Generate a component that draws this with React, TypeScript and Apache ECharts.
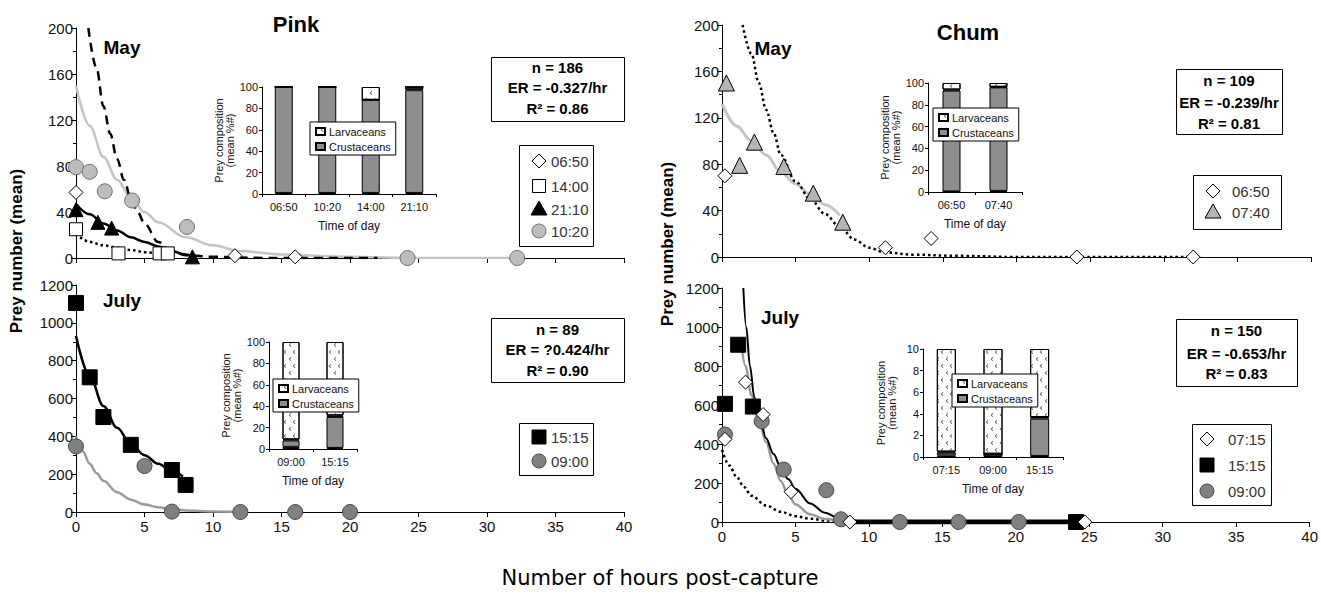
import React, { useEffect, useRef } from 'react';
import * as echarts from 'echarts';

const NARROW = "'Liberation Sans Narrow','Arial Narrow','Liberation Sans',Arial,sans-serif";
const ARIAL = "'Liberation Sans',Arial,sans-serif";

// ---------- Pink, May ----------
const pinkMay0650 = [[0, 57], [11.6, 2], [16, 1]];
const pinkMay1400 = [[0, 25], [3.1, 4], [6.1, 4], [6.7, 4]];
const pinkMay2110 = [[0, 42], [1.6, 31], [2.6, 26], [8.5, 1]];
const pinkMay1020 = [[0, 79], [1, 75], [2.1, 58], [4.1, 50], [8.1, 27], [24.2, 0], [32.2, 0]];
const pinkMayFit1020 = [[0, 150], [1, 115], [2, 88], [3, 68], [4, 52], [5, 40], [6, 31], [8, 18], [10, 11], [12, 6], [15, 3], [20, 1], [25, 0], [32, 0]];
const pinkMayFitAll = [[0.9, 200], [1.5, 165], [2, 132], [2.5, 108], [3, 86], [3.5, 68], [4, 52], [4.5, 40], [5, 30], [6, 14], [7, 6], [8, 2.5], [10, 1], [14, 0], [22, 0]];
const pinkMayFit2110 = [[0, 47], [1, 38], [2, 30], [3, 24], [4, 18], [5, 14], [6, 10], [7, 6], [8, 3], [8.5, 1.5]];
const pinkMayFit1400 = [[0.3, 18], [1, 14], [2, 11], [3, 9], [4, 7], [5, 5], [6, 4], [7, 3]];

// ---------- Pink, July ----------
const pinkJul1515 = [[0, 1105], [1, 712], [2, 502], [4, 355], [7, 222], [8, 143]];
const pinkJul0900 = [[0, 347], [5, 243], [7, 2], [12, 0], [16, 0], [20, 0]];
const pinkJulFit1515 = [[0, 930], [1, 720], [2, 560], [3, 445], [4, 360], [5, 300], [6, 255], [7, 215], [7.8, 188]];
const pinkJulFit0900 = [[0, 400], [0.5, 320], [1, 255], [1.5, 205], [2, 165], [3, 105], [4, 65], [5, 40], [6, 25], [7, 15], [8, 8], [10, 3], [12, 1]];

// ---------- Chum, May ----------
const chumMay0650 = [[0.2, 70], [11.1, 8], [14.2, 16], [24.1, 0], [32, 0]];
const chumMay0740 = [[0.3, 150], [1.2, 79], [2.2, 99], [4.2, 78], [6.2, 55], [8.2, 30]];
const chumMayFit0740 = [[0, 132], [1, 113], [2, 100], [3, 88], [4, 73], [5, 63], [6, 54], [7, 45], [8, 36]];
const chumMayFitAll = [[1.4, 200], [2, 175], [2.5, 150], [3, 127], [3.5, 107], [4, 88], [5, 65], [6, 50], [7, 37], [8, 26], [9, 15], [10, 8], [11, 4], [13, 2], [16, 1], [20, 0], [32, 0]];

// ---------- Chum, July ----------
const chumJul0715 = [[0.2, 424], [1.6, 717], [2.8, 551], [4.7, 155], [8.7, 0], [24.7, 0]];
const chumJul1515 = [[0.2, 606], [1.1, 909], [2.1, 592], [24.1, 0]];
const chumJul0900 = [[0.2, 449], [2.7, 517], [4.2, 269], [7.1, 163], [8.1, 14], [12.1, 0], [16.1, 0], [20.2, 0]];
const chumJulFit1515 = [[1.45, 1200], [1.65, 1000], [1.9, 800], [2.2, 640], [2.6, 520], [3, 430], [3.5, 350], [4, 280], [4.5, 220], [5, 170], [6, 95], [7, 48], [8, 18], [9, 6], [10, 2], [12, 0], [24, 0]];
const chumJulFitTail = [[8.5, 0], [24, 0]];
const chumJulFit0900 = [[1.3, 920], [1.6, 800], [2, 650], [2.5, 520], [3, 410], [3.5, 300], [4, 210], [4.5, 140], [5, 90], [6, 40], [7, 15], [8, 5]];
const chumJulFit0715 = [[0, 370], [0.5, 290], [1, 230], [1.5, 180], [2, 135], [3, 85], [4, 52], [5, 30], [6, 17], [7, 8], [8, 3]];

// ---------- Insets: prey composition ----------
const pinkMayTimes = ['06:50', '10:20', '14:00', '21:10'];
const pinkMayOtherLow = [1, 1, 1, 1];
const pinkMayCrust = [99, 99, 87, 96];
const pinkMayOtherHigh = [0, 0, 0, 3];
const pinkMayLarv = [0, 0, 12, 0];

const pinkJulTimes = ['09:00', '15:15'];
const pinkJulOtherLow = [2, 1];
const pinkJulCrust = [6, 29];
const pinkJulOtherHigh = [1, 1.5];
const pinkJulLarv = [91, 68.5];

const chumMayTimes = ['06:50', '07:40'];
const chumMayOtherLow = [0.5, 1];
const chumMayCrust = [92.5, 95];
const chumMayOtherHigh = [1, 0.5];
const chumMayLarv = [6, 3.5];

const chumJulTimes = ['07:15', '09:00', '15:15'];
const chumJulOtherLow = [0.15, 0.3, 0.1];
const chumJulCrust = [0.25, 0, 3.45];
const chumJulOtherHigh = [0.1, 0, 0.15];
const chumJulLarv = [9.5, 9.7, 6.3];

// ---------- Text ----------
const pinkMayStats = ['n = 186', 'ER = -0.327/hr', 'R² = 0.86'];
const pinkJulStats = ['n = 89', 'ER = ?0.424/hr', 'R² = 0.90'];
const chumMayStats = ['n = 109', 'ER = -0.239/hr', 'R² = 0.81'];
const chumJulStats = ['n = 150', 'ER = -0.653/hr', 'R² = 0.83'];

const STYLE = {
  diamond: { symbol: 'diamond', size: 14, fill: '#fff', border: '#000' },
  wsquare: { symbol: 'rect', size: 13, fill: '#fff', border: '#000' },
  btri: { symbol: 'triangle', size: 14, fill: '#000', border: '#000' },
  lcircle: { symbol: 'circle', size: 15, fill: '#bdbdbd', border: '#6f6f6f' },
  bsquare: { symbol: 'rect', size: 15, fill: '#000', border: '#000' },
  dcircle: { symbol: 'circle', size: 15, fill: '#808080', border: '#4a4a4a' },
  gtri: { symbol: 'triangle', size: 16, fill: '#b5b5b5', border: '#000' },
};

const plain = (v: number) => String(v);

function mainX(gridIndex: number, showLabels: boolean) {
  return {
    type: 'value', gridIndex, min: 0, max: 40, interval: 5,
    axisLine: { show: true, onZero: false, lineStyle: { color: '#000', width: 1 } },
    axisTick: { show: true, length: 5, lineStyle: { color: '#000' } },
    axisLabel: { show: showLabels, fontSize: 15, fontFamily: NARROW, color: '#111', margin: 7, formatter: plain },
    splitLine: { show: false },
  };
}
function mainY(gridIndex: number, max: number, interval: number) {
  return {
    type: 'value', gridIndex, min: 0, max, interval,
    axisLine: { show: true, lineStyle: { color: '#000', width: 1 } },
    axisTick: { show: true, length: 5, lineStyle: { color: '#000' } },
    minorTick: { show: true, splitNumber: 2, length: 3, lineStyle: { color: '#000' } },
    axisLabel: { fontSize: 15, fontFamily: NARROW, color: '#111', margin: 3, formatter: plain },
    splitLine: { show: false },
    minorSplitLine: { show: false },
  };
}
function insetX(gridIndex: number, data: string[]) {
  return {
    type: 'category', gridIndex, data,
    axisLine: { show: true, lineStyle: { color: '#000' } },
    axisTick: { show: true, length: 3, lineStyle: { color: '#000' } },
    axisLabel: { fontSize: 11, fontFamily: NARROW, color: '#111', margin: 7 },
    name: 'Time of day', nameLocation: 'middle', nameGap: 26,
    nameTextStyle: { fontSize: 12, fontFamily: NARROW, color: '#111' },
  };
}
function insetY(gridIndex: number, max: number, interval: number) {
  return {
    type: 'value', gridIndex, min: 0, max, interval,
    axisLine: { show: true, lineStyle: { color: '#000' } },
    axisTick: { show: true, length: 3, lineStyle: { color: '#000' } },
    axisLabel: { fontSize: 11, fontFamily: NARROW, color: '#111', margin: 4 },
    splitLine: { show: false },
    name: 'Prey composition\n(mean %#)', nameLocation: 'middle', nameGap: 26, nameRotate: 90,
    nameTextStyle: { fontSize: 11, fontFamily: NARROW, color: '#111', lineHeight: 11 },
  };
}
function fit(name: string, data: number[][], ax: number, color: string, width: number, type: any = 'solid') {
  return {
    type: 'line', name, data, xAxisIndex: ax, yAxisIndex: ax, symbol: 'none', showSymbol: false,
    smooth: 0.35, smoothMonotone: 'x', clip: true, silent: true, z: 2,
    lineStyle: { color, width, type },
  };
}
function pts(name: string, data: number[][], ax: number, st: any) {
  return {
    type: 'scatter', name, data, xAxisIndex: ax, yAxisIndex: ax, symbol: st.symbol, symbolSize: st.size,
    clip: false, silent: true, z: 3,
    itemStyle: { color: st.fill, borderColor: st.border, borderWidth: 1, opacity: 1 },
  };
}
const larvDecal = {
  symbol: 'path://M3,0 L4,1 L1.5,3 L4,5 L3,6 L0,3 Z',
  symbolSize: 1, symbolKeepAspect: true,
  color: '#555', backgroundColor: '#fff',
  dashArrayX: [[4, 5], [0, 4, 4, 1]], dashArrayY: [4, 3],
};
function insetBars(ax: number, stack: string, low: number[], crust: number[], high: number[], larv: number[], bw: number) {
  const base = { type: 'bar', xAxisIndex: ax, yAxisIndex: ax, stack, barWidth: bw, silent: true, z: 2 };
  return [
    { ...base, name: 'Other', data: low, itemStyle: { color: '#1a1a1a', borderColor: '#000', borderWidth: 1 } },
    { ...base, name: 'Crustaceans', data: crust, itemStyle: { color: '#8e8e8e', borderColor: '#000', borderWidth: 1 } },
    { ...base, name: 'Other', data: high, itemStyle: { color: '#1a1a1a', borderColor: '#000', borderWidth: 1 } },
    { ...base, name: 'Larvaceans', data: larv, itemStyle: { color: '#fff', borderColor: '#000', borderWidth: 1, decal: larvDecal } },
  ];
}
function insetLegend(left: number, top: number) {
  return {
    show: true, left, top, orient: 'vertical', selectedMode: false, z: 20,
    data: ['Larvaceans', 'Crustaceans'],
    icon: 'rect', itemWidth: 9, itemHeight: 7, itemGap: 4, padding: [4, 5, 3, 5],
    backgroundColor: '#fff', borderColor: '#000', borderWidth: 1, borderRadius: 0,
    textStyle: { fontSize: 11, fontFamily: NARROW, color: '#111', padding: [0, 0, 0, -1] },
  };
}
function txt(x: number, y: number, text: string, size: number, weight = 'normal', family = ARIAL, extra: any = {}) {
  return {
    type: 'text', x, y, silent: true, z: 100, ...extra,
    style: { text, fontSize: size, fontWeight: weight, fontFamily: family, fill: '#000', align: 'center', verticalAlign: 'middle' },
  };
}
function statsBox(x: number, y: number, w: number, h: number, lines: string[], ys: number[]) {
  return [
    { type: 'rect', z: 90, silent: true, shape: { x: x + 0.5, y: y + 0.5, width: w, height: h }, style: { fill: '#fff', stroke: '#000', lineWidth: 1 } },
    ...lines.map((t, i) => txt(x + w / 2, ys[i], t, 15, 'bold')),
  ];
}
function marker(kind: string, cx: number, cy: number) {
  const z = 100;
  if (kind === 'diamond') return { type: 'polygon', z, silent: true, shape: { points: [[cx, cy - 7], [cx + 7, cy], [cx, cy + 7], [cx - 7, cy]] }, style: { fill: '#fff', stroke: '#000', lineWidth: 1 } };
  if (kind === 'wsquare') return { type: 'rect', z, silent: true, shape: { x: cx - 6.5, y: cy - 6.5, width: 13, height: 13 }, style: { fill: '#fff', stroke: '#000', lineWidth: 1 } };
  if (kind === 'bsquare') return { type: 'rect', z, silent: true, shape: { x: cx - 7, y: cy - 7, width: 14, height: 14 }, style: { fill: '#000', stroke: '#000', lineWidth: 1 } };
  if (kind === 'btri') return { type: 'polygon', z, silent: true, shape: { points: [[cx, cy - 8], [cx + 8, cy + 6], [cx - 8, cy + 6]] }, style: { fill: '#000', stroke: '#000', lineWidth: 1 } };
  if (kind === 'gtri') return { type: 'polygon', z, silent: true, shape: { points: [[cx, cy - 8], [cx + 8, cy + 6], [cx - 8, cy + 6]] }, style: { fill: '#b5b5b5', stroke: '#000', lineWidth: 1 } };
  if (kind === 'lcircle') return { type: 'circle', z, silent: true, shape: { cx, cy, r: 7 }, style: { fill: '#bdbdbd', stroke: '#6f6f6f', lineWidth: 1 } };
  return { type: 'circle', z, silent: true, shape: { cx, cy, r: 7 }, style: { fill: '#808080', stroke: '#4a4a4a', lineWidth: 1 } };
}
function legendBox(x: number, y: number, w: number, h: number, mx: number, tx: number, items: [string, string, number][]) {
  const out: any[] = [
    { type: 'rect', z: 90, silent: true, shape: { x: x + 0.5, y: y + 0.5, width: w, height: h }, style: { fill: '#fff', stroke: '#000', lineWidth: 1 } },
  ];
  items.forEach(([kind, label, cy]) => {
    out.push(marker(kind, mx, cy));
    out.push({
      type: 'text', x: tx, y: cy, z: 100, silent: true,
      style: { text: label, fontSize: 15, fontFamily: NARROW, fill: '#333', align: 'left', verticalAlign: 'middle' },
    });
  });
  return out;
}

export default function App() {
  const ref = useRef<HTMLDivElement>(null);
  useEffect(() => {
    document.body.style.margin = '0';
    if (!ref.current) return;
    const chart = echarts.init(ref.current, undefined, { renderer: 'svg' });
    const option: any = {
      animation: false,
      backgroundColor: '#fff',
      grid: [
        { left: 76, top: 28, width: 548, height: 230 },
        { left: 76, top: 285, width: 548, height: 227 },
        { left: 722, top: 25, width: 589, height: 232 },
        { left: 722, top: 288, width: 589, height: 234 },
        { left: 262, top: 87, width: 174, height: 107 },
        { left: 269, top: 342, width: 88, height: 107 },
        { left: 928, top: 83, width: 94, height: 109 },
        { left: 923, top: 349, width: 140, height: 108 },
      ],
      xAxis: [
        mainX(0, false), mainX(1, true), mainX(2, false), mainX(3, true),
        insetX(4, pinkMayTimes), insetX(5, pinkJulTimes), insetX(6, chumMayTimes), insetX(7, chumJulTimes),
      ],
      yAxis: [
        mainY(0, 200, 40), mainY(1, 1200, 200), mainY(2, 200, 40), mainY(3, 1200, 200),
        insetY(4, 100, 20), insetY(5, 100, 20), insetY(6, 100, 20), insetY(7, 10, 2),
      ],
      legend: [insetLegend(310, 122), insetLegend(273, 379), insetLegend(933, 108), insetLegend(952, 374)],
      series: [
        // Pink May
        fit('10:20 fit', pinkMayFit1020, 0, '#c4c4c4', 2.5),
        fit('All fit', pinkMayFitAll, 0, '#000', 2.5, [9, 6]),
        fit('21:10 fit', pinkMayFit2110, 0, '#000', 2.5),
        fit('14:00 fit', pinkMayFit1400, 0, '#000', 2.5, [2.5, 3]),
        pts('10:20', pinkMay1020, 0, STYLE.lcircle),
        pts('06:50', pinkMay0650, 0, STYLE.diamond),
        pts('14:00', pinkMay1400, 0, STYLE.wsquare),
        pts('21:10', pinkMay2110, 0, STYLE.btri),
        // Pink July
        fit('15:15 fit', pinkJulFit1515, 1, '#000', 2.5),
        fit('09:00 fit', pinkJulFit0900, 1, '#9a9a9a', 2.5),
        pts('09:00', pinkJul0900, 1, STYLE.dcircle),
        pts('15:15', pinkJul1515, 1, STYLE.bsquare),
        // Chum May
        fit('07:40 fit', chumMayFit0740, 2, '#c4c4c4', 3),
        fit('All fit', chumMayFitAll, 2, '#000', 2.5, [2.5, 3]),
        pts('07:40', chumMay0740, 2, STYLE.gtri),
        pts('06:50', chumMay0650, 2, STYLE.diamond),
        // Chum July
        fit('07:15 fit', chumJulFit0715, 3, '#000', 2.5, [2.5, 3]),
        fit('09:00 fit', chumJulFit0900, 3, '#9a9a9a', 2.5),
        pts('15:15', chumJul1515, 3, STYLE.bsquare),
        pts('09:00', chumJul0900, 3, STYLE.dcircle),
        pts('07:15', chumJul0715, 3, STYLE.diamond),
        fit('15:15 fit', chumJulFit1515, 3, '#000', 2),
        fit('15:15 fit tail', chumJulFitTail, 3, '#000', 5),
        // Insets
        ...insetBars(4, 's4', pinkMayOtherLow, pinkMayCrust, pinkMayOtherHigh, pinkMayLarv, 18),
        ...insetBars(5, 's5', pinkJulOtherLow, pinkJulCrust, pinkJulOtherHigh, pinkJulLarv, 17),
        ...insetBars(6, 's6', chumMayOtherLow, chumMayCrust, chumMayOtherHigh, chumMayLarv, 18),
        ...insetBars(7, 's7', chumJulOtherLow, chumJulCrust, chumJulOtherHigh, chumJulLarv, 19),
      ],
      graphic: {
        elements: [
          txt(296, 24, 'Pink', 22, 'bold'),
          txt(968, 32, 'Chum', 22, 'bold'),
          txt(122, 47, 'May', 19, 'bold'),
          txt(773, 48, 'May', 19, 'bold'),
          txt(122, 300, 'July', 19, 'bold'),
          txt(780, 317, 'July', 19, 'bold'),
          txt(16, 251, 'Prey number (mean)', 17, 'bold', ARIAL, { rotation: Math.PI / 2 }),
          txt(667, 244, 'Prey number (mean)', 17, 'bold', ARIAL, { rotation: Math.PI / 2 }),
          txt(660, 578, 'Number of hours post-capture', 21, 'normal', "'DejaVu Sans',Verdana,sans-serif"),
          ...statsBox(491, 57, 133, 64, pinkMayStats, [67, 87, 108]),
          ...statsBox(1176, 69, 106, 65, chumMayStats, [80, 102, 123]),
          ...statsBox(491, 318, 133, 64, pinkJulStats, [329, 349, 370]),
          ...statsBox(1176, 319, 121, 67, chumJulStats, [330, 353, 373]),
          ...legendBox(519, 145, 74, 101, 539, 551, [['diamond', '06:50', 161], ['wsquare', '14:00', 186], ['btri', '21:10', 209], ['lcircle', '10:20', 231]]),
          ...legendBox(1193, 175, 88, 54, 1213, 1232, [['diamond', '06:50', 191], ['gtri', '07:40', 212]]),
          ...legendBox(519, 423, 74, 52, 539, 551, [['bsquare', '15:15', 437], ['dcircle', '09:00', 461]]),
          ...legendBox(1192, 424, 79, 81, 1207, 1228, [['diamond', '07:15', 439], ['bsquare', '15:15', 465], ['dcircle', '09:00', 491]]),
        ],
      },
    };
    chart.setOption(option);
    return () => chart.dispose();
  }, []);
  return <div ref={ref} style={{ width: 1321, height: 596 }} />;
}
